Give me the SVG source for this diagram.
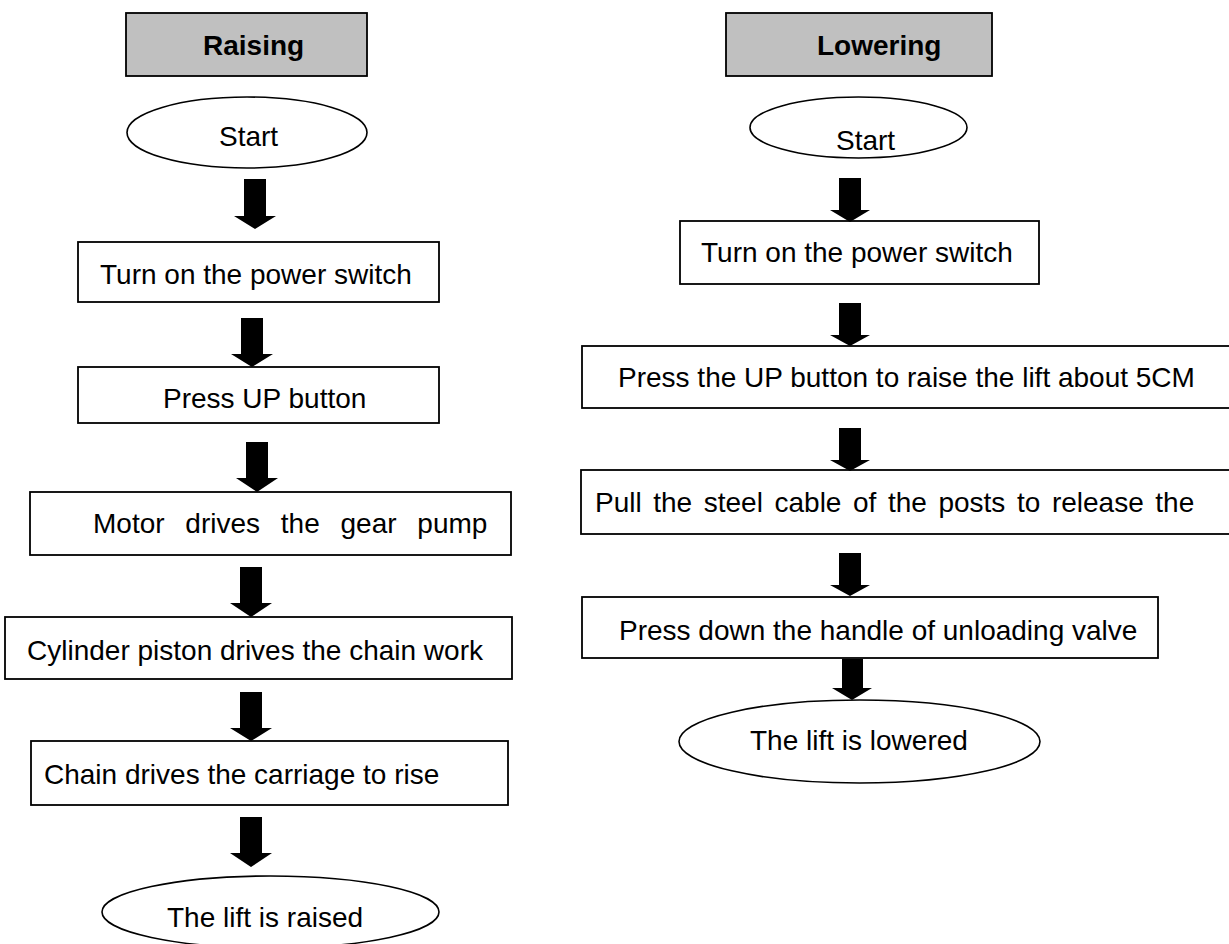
<svg xmlns="http://www.w3.org/2000/svg" width="1229" height="944" viewBox="0 0 1229 944">
<style>
.box{fill:#fff;stroke:#000;stroke-width:1.8}
.hdr{fill:#c0c0c0;stroke:#000;stroke-width:1.8}
.ell{fill:#fff;stroke:#000;stroke-width:1.6}
.t{font-family:"Liberation Sans",Arial,sans-serif;font-size:28px;fill:#000}
.b{font-weight:bold}
.arr{fill:#000;stroke:none}
</style>
<rect width="1229" height="944" fill="#fff"/>
<g id="raising-header"><rect class="hdr" x="126" y="13" width="241" height="63"/><text class="t b" x="203" y="55">Raising</text></g>
<g id="raising-start"><ellipse class="ell" cx="247" cy="132.5" rx="120" ry="35.5"/><text class="t" x="219" y="146">Start</text></g>
<g id="raising-power"><rect class="box" x="78" y="242" width="361" height="60"/><text class="t" x="100" y="284">Turn on the power switch</text></g>
<g id="raising-up"><rect class="box" x="78" y="367" width="361" height="56"/><text class="t" x="163" y="408">Press UP button</text></g>
<g id="raising-motor"><rect class="box" x="30" y="492" width="481" height="63"/><text class="t" x="93" y="533" word-spacing="13">Motor drives the gear pump</text></g>
<g id="raising-cylinder"><rect class="box" x="5" y="617" width="507" height="62"/><text class="t" x="27" y="660">Cylinder piston drives the chain work</text></g>
<g id="raising-chain"><rect class="box" x="31" y="741" width="477" height="64"/><text class="t" x="44" y="784">Chain drives the carriage to rise</text></g>
<g id="raising-end"><ellipse class="ell" cx="270.5" cy="912" rx="168.5" ry="36"/><text class="t" x="167" y="927">The lift is raised</text></g>

<g id="lowering-header"><rect class="hdr" x="726" y="13" width="266" height="63"/><text class="t b" x="817" y="55">Lowering</text></g>
<g id="lowering-start"><ellipse class="ell" cx="858.5" cy="127.5" rx="108.5" ry="30.5"/><text class="t" x="836" y="150">Start</text></g>
<g id="lowering-power"><rect class="box" x="680" y="221" width="359" height="63"/><text class="t" x="701" y="262">Turn on the power switch</text></g>
<g id="lowering-up"><rect class="box" x="582" y="346" width="660" height="62"/><text class="t" x="618" y="387">Press the UP button to raise the lift about 5CM</text></g>
<g id="lowering-cable"><rect class="box" x="581" y="470" width="661" height="64"/><text class="t" x="595" y="512" word-spacing="3.8">Pull the steel cable of the posts to release the</text></g>
<g id="lowering-valve"><rect class="box" x="582" y="597" width="576" height="61"/><text class="t" x="619" y="640">Press down the handle of unloading valve</text></g>
<g id="lowering-end"><ellipse class="ell" cx="859.5" cy="741.5" rx="180.5" ry="41.5"/><text class="t" x="750" y="750">The lift is lowered</text></g>

<g id="connectors">
<polygon class="arr" points="244,179 266,179 266,216 276,216 255,229 234,216 244,216"/>
<polygon class="arr" points="241,318 263,318 263,354 273,354 252,367 231,354 241,354"/>
<polygon class="arr" points="246,442 268,442 268,478 278,478 257,492 236,478 246,478"/>
<polygon class="arr" points="240,567 262,567 262,603 272,603 251,617 230,603 240,603"/>
<polygon class="arr" points="240,692 262,692 262,728 272,728 251,741 230,728 240,728"/>
<polygon class="arr" points="240,817 262,817 262,853 272,853 251,867 230,853 240,853"/>
<polygon class="arr" points="839,178 861,178 861,210 870,210 850,222 830,210 839,210"/>
<polygon class="arr" points="839,303 861,303 861,335 870,335 850,346 830,335 839,335"/>
<polygon class="arr" points="839,428 861,428 861,460 870,460 850,471 830,460 839,460"/>
<polygon class="arr" points="839,553 861,553 861,585 870,585 850,596 830,585 839,585"/>
<polygon class="arr" points="842,659 863,659 863,688 872,688 852,700 832,688 842,688"/>
</g>
</svg>
